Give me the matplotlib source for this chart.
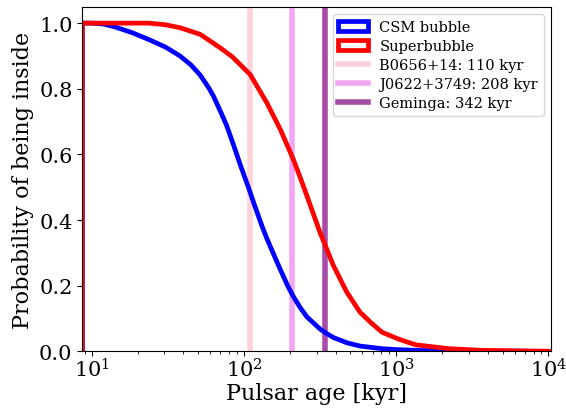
import numpy as np
import matplotlib
matplotlib.use("Agg")
import matplotlib.pyplot as plt
from matplotlib.patches import Polygon

plt.rcParams["font.family"] = ["DejaVu Serif"]

# cumulative probability of still being inside the bubble
csm_age = [8.67, 10, 12, 14.3, 18.4, 23.7, 30.5, 38.0, 45.0, 51.5, 58.7, 63.0, 71.8, 77.1, 87.9, 94.3,
           107.5, 115, 131, 141, 161, 173, 194, 211, 235, 259, 316, 342, 387, 474, 579, 808,
           1040, 1337, 2000, 10400]
csm_prob = [1.0, 1.0, 0.997, 0.988, 0.971, 0.950, 0.927, 0.900, 0.872, 0.842, 0.803, 0.778, 0.72, 0.687, 0.612, 0.570,
            0.497, 0.457, 0.383, 0.345, 0.283, 0.250, 0.199, 0.167, 0.132, 0.105, 0.068, 0.057, 0.042, 0.026, 0.016,
            0.008, 0.005, 0.003, 0.001, 0.0]

sb_age = [8.67, 23.7, 30.5, 38.0, 51.5, 69.7, 83.5, 94.3, 110, 141, 173, 211, 234, 259, 316,
          387, 474, 579, 680, 808, 1040, 1337, 2218, 3665, 10400]
sb_prob = [1.0, 1.0, 0.995, 0.986, 0.966, 0.925, 0.898, 0.874, 0.843, 0.758, 0.677, 0.585, 0.53, 0.474, 0.362,
           0.261, 0.180, 0.119, 0.088, 0.058, 0.037, 0.020, 0.008, 0.003, 0.0]

pulsar_names = ["B0656+14", "J0622+3749", "Geminga"]
pulsar_ages = [110, 208, 342]
pulsar_colors = ["pink", "violet", "purple"]

fig, ax = plt.subplots(figsize=(5.66, 4.10), dpi=100)
fig.subplots_adjust(left=0.1454, right=0.9735, bottom=0.1407, top=0.9812)

# vertical markers for the known pulsars (behind the curves)
vlines = []
for name, age, col in zip(pulsar_names, pulsar_ages, pulsar_colors):
    ln = ax.axvline(age, color=col, alpha=0.7, lw=4, zorder=1, label=f"{name}: {age} kyr")
    vlines.append(ln)


# step-histogram look: the outline drops to zero at the first edge
def outline(age, prob, color, label):
    x = [age[0]] + list(age)
    y = [0.0] + list(prob)
    p = Polygon(np.column_stack([x, y]), closed=False, fill=False, edgecolor=color,
                lw=3.4, zorder=2, label=label, joinstyle="round")
    ax.add_patch(p)
    return p


csm = outline(csm_age, csm_prob, "blue", "CSM bubble")
sb = outline(sb_age, sb_prob, "red", "Superbubble")

ax.set_xscale("log")
ax.set_xlim(8.67, 1.04e4)
ax.set_ylim(0, 1.05)
ax.set_yticks([0.0, 0.2, 0.4, 0.6, 0.8, 1.0])
ax.tick_params(labelsize=15)
ax.tick_params(axis="x", pad=1)

ax.set_xlabel("Pulsar age [kyr]", fontsize=16, labelpad=1)
ax.set_ylabel("Probability of being inside", fontsize=16)

ax.legend(handles=[csm, sb] + vlines, loc="upper right", fontsize=10.5, labelspacing=0.35)

fig.savefig("out.png", dpi=100)
